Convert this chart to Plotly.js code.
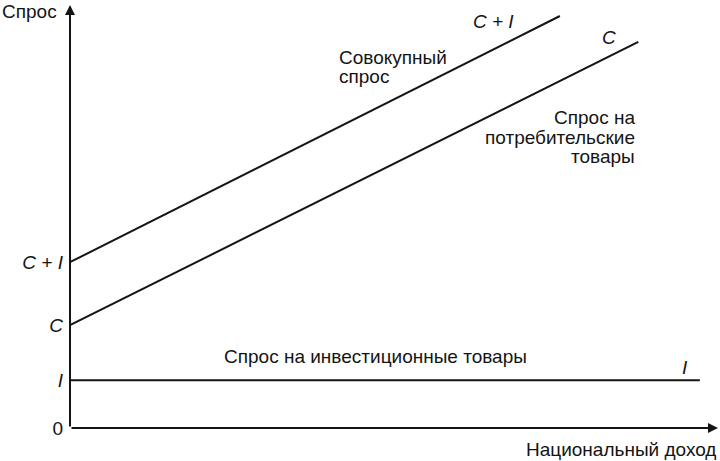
<!DOCTYPE html>
<html>
<head>
<meta charset="utf-8">
<script src="https://cdn.plot.ly/plotly-3.0.1.min.js"></script>
<style>
  html, body { margin: 0; padding: 0; background: #fff; }
  #chart { width: 720px; height: 461px; }
</style>
</head>
<body>
<div id="chart"></div>
<script>
// in axis units (0..100 both ways)
const incomeI = [0, 97.2];
const demandI = [11.3, 11.3];

const incomeC = [0, 87.7];
const demandC = [24.3, 91.3];

const incomeCI = [0, 75.6];
const demandCI = [39.2, 97.4];

const yTickVals = [0, 11.3, 24.3, 39.2];
const yTickText = ["0", "<i>I</i>", "<i>C</i>", "<i>C + I</i>"];

const INK = "#141414";
const FONT = "Liberation Sans, Arial, sans-serif";
const SIZE = 19;

const line = (x, y) => ({
  x, y,
  type: "scatter",
  mode: "lines",
  line: { color: INK, width: 2 },
  hoverinfo: "skip",
  cliponaxis: false,
});

const note = (text, x, y, extra = {}) => ({
  text, x, y,
  xref: "x", yref: "y",
  showarrow: false,
  font: { family: FONT, size: SIZE, color: INK },
  ...extra,
});

Plotly.newPlot(
  "chart",
  [line(incomeI, demandI), line(incomeC, demandC), line(incomeCI, demandCI)],
  {
    width: 720,
    height: 461,
    margin: { l: 70, r: 2, t: 5, b: 33 },
    paper_bgcolor: "#fff",
    plot_bgcolor: "#fff",
    showlegend: false,
    font: { family: FONT, size: SIZE, color: INK },
    xaxis: {
      range: [0, 100],
      showgrid: false,
      zeroline: false,
      showticklabels: false,
      ticks: "",
      fixedrange: true,
    },
    yaxis: {
      range: [0, 100],
      showgrid: false,
      zeroline: false,
      tickvals: yTickVals,
      ticktext: yTickText,
      ticks: "",
      ticklabelstandoff: 6,
      tickfont: { family: FONT, size: SIZE, color: INK },
      fixedrange: true,
    },
    annotations: [
      // axes with arrow heads
      { x: 100, y: 0, ax: 0, ay: 0, axref: "x", ayref: "y", xref: "x", yref: "y",
        text: "", showarrow: true, arrowhead: 2, arrowsize: 1, arrowwidth: 2, arrowcolor: INK },
      { x: 0, y: 100, ax: 0, ay: 0, axref: "x", ayref: "y", xref: "x", yref: "y",
        text: "", showarrow: true, arrowhead: 2, arrowsize: 1, arrowwidth: 2, arrowcolor: INK },
      { text: "Спрос", xref: "paper", yref: "paper", x: -0.108, y: 0.985,
        xanchor: "left", yanchor: "middle", showarrow: false,
        font: { family: FONT, size: SIZE, color: INK } },
      { text: "Национальный доход", xref: "paper", yref: "paper", x: 1, y: -0.05,
        xanchor: "right", yanchor: "middle", showarrow: false,
        font: { family: FONT, size: SIZE, color: INK } },
      note("Совокупный", 41.2, 87.5, { xanchor: "left" }),
      note("спрос", 41.2, 83.0, { xanchor: "left" }),
      note("Спрос на", 87.5, 73.3, { xanchor: "right" }),
      note("потребительские", 87.5, 68.6, { xanchor: "right" }),
      note("товары", 87.5, 64.1, { xanchor: "right" }),
      note("Спрос на инвестиционные товары", 47.2, 16.8),
      note("<i>C + I</i>", 65.4, 96.0),
      note("<i>C</i>", 83.2, 92.4),
      note("<i>I</i>", 94.9, 14.4),
    ],
  },
  { displayModeBar: false, staticPlot: true }
);
</script>
</body>
</html>
